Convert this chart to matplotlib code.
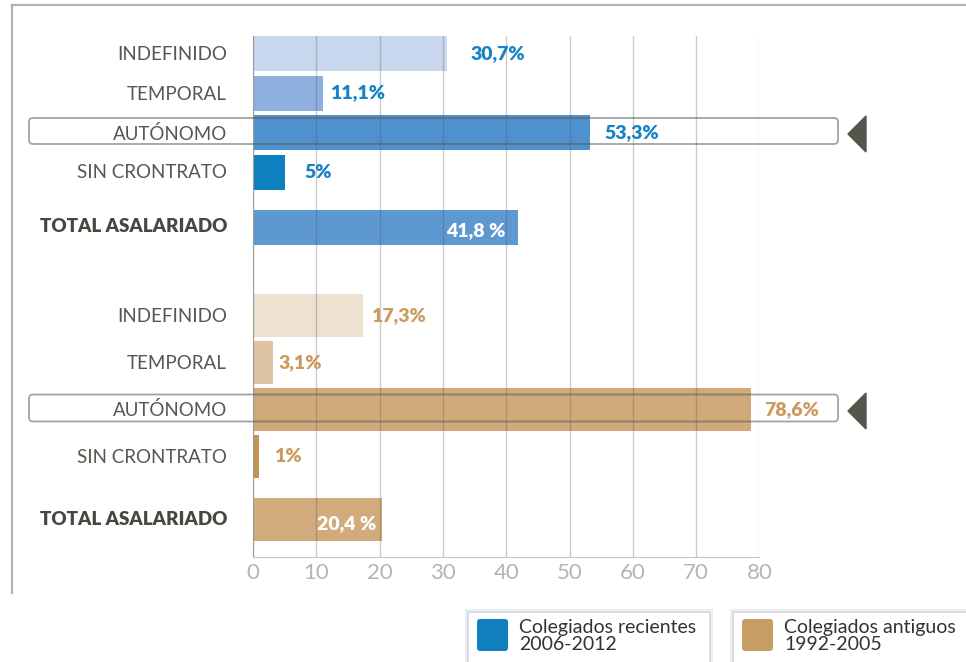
import matplotlib.pyplot as plt
from matplotlib.patches import FancyBboxPatch, Polygon, Rectangle

# --- data ---
categories = ["INDEFINIDO", "TEMPORAL", "AUTÓNOMO", "SIN CRONTRATO", "TOTAL ASALARIADO"]
recientes = [30.7, 11.1, 53.3, 5.0, 41.8]
antiguos = [17.3, 3.1, 78.6, 1.0, 20.4]
recientes_labels = ["30,7%", "11,1%", "53,3%", "5%", "41,8 %"]
antiguos_labels = ["17,3%", "3,1%", "78,6%", "1%", "20,4 %"]
legend_names = ["Colegiados recientes\n2006-2012", "Colegiados antiguos\n1992-2005"]
xticks = [0, 10, 20, 30, 40, 50, 60, 70, 80]

# --- styles ---
blue_colors = ["#c9d8ef", "#8fb0de", "#4f91cf", "#0e80c0", "#5e98d1"]
tan_colors = ["#ede1d1", "#dfc4a3", "#d0aa7a", "#c39352", "#d1ab7b"]
blue_text = "#1583c6"
tan_text = "#cc9a5e"
label_gray = "#57564f"
font = "Lato"

W, H = 966, 662
fig = plt.figure(figsize=(W / 100, H / 100), dpi=100)

# main axes: y data units are figure pixels (top = 36, bottom = 557)
ax_top, ax_bot, x0px, x80px = 36, 557, 253, 759.5
ax = fig.add_axes([x0px / W, 1 - ax_bot / H, (x80px - x0px) / W, (ax_bot - ax_top) / H], zorder=2)
ax.set_xlim(0, 80)
ax.set_ylim(ax_bot, ax_top)

# row layout (pixels)
def rows(top, pitch, height, extra):
    c = [top + height / 2 + i * pitch for i in range(4)]
    c.append(top + height / 2 + 3 * pitch + pitch + extra)
    return c

up_y = rows(36, 39.5, 35, 15.5)
lo_y = rows(294, 47, 43, 16)

ax.barh(up_y, recientes, height=35, color=blue_colors, zorder=1)
ax.barh(lo_y, antiguos, height=43, color=tan_colors, zorder=1)

# value labels (pixel offsets from bar end)
up_off = [23, 7, 14, 20, -12]
lo_off = [9, 6, 14, 15, -6]
for vals, labs, ys, offs, col in [(recientes, recientes_labels, up_y, up_off, blue_text),
                                   (antiguos, antiguos_labels, lo_y, lo_off, tan_text)]:
    for i, (v, lab, y, dx) in enumerate(zip(vals, labs, ys, offs)):
        inside = i == len(vals) - 1
        ax.annotate(lab, (v, y), xytext=(dx, -4 if inside else 0), textcoords="offset pixels",
                    ha="right" if inside else "left", va="center", fontsize=14,
                    fontweight="heavy", family=font, color="white" if inside else col, zorder=4)

ax.set_xticks(xticks)
ax.set_yticks([])
ax.tick_params(axis="x", length=0, pad=4, labelsize=16, labelcolor="#b5b5ad")
for lab in ax.get_xticklabels():
    lab.set_family(font)
for s in ["top", "right"]:
    ax.spines[s].set_visible(False)
ax.spines["bottom"].set_color("#c8c8c8")
ax.spines["left"].set_color("#bdbdb6")
ax.grid(axis="x", color="#555550", alpha=0.3, lw=1, zorder=3)
ax.set_axisbelow(False)

# overlay in pixel coordinates
ov = fig.add_axes([0, 0, 1, 1], zorder=3)
ov.set_xlim(0, W)
ov.set_ylim(H, 0)
ov.axis("off")
ov.patch.set_alpha(0)

frame_col = "#b4b4ac"
ov.plot([12, W], [5, 5], color=frame_col, lw=1.6)
ov.plot([12, 12], [5, 593], color=frame_col, lw=1.6)

for ys in (up_y, lo_y):
    for i, (cat, y) in enumerate(zip(categories, ys)):
        bold = cat.startswith("TOTAL")
        ov.text(227, y + (1 if not bold else 0), cat, ha="right", va="center", family=font,
                fontsize=13.5, fontweight="heavy" if bold else "normal",
                color="#47463f" if bold else label_gray)

# highlight boxes and arrows on AUTÓNOMO rows
for y, h in [(up_y[2], 26), (lo_y[2], 27)]:
    box = FancyBboxPatch((29, y - h / 2 - 1.5), 809, h, boxstyle="round,pad=0,rounding_size=4",
                         fc="none", ec=(0.35, 0.35, 0.3, 0.55), lw=1.3, zorder=5)
    ov.add_patch(box)
    ov.add_patch(Polygon([(848, y + 1.5), (866, y - 16.5), (866, y + 19.5)], closed=True,
                         color="#56554c", zorder=5))

# legend boxes
for (lx, rx), col, name in [((468, 710), "#1080c0", legend_names[0]),
                             ((733, 990), "#c89d64", legend_names[1])]:
    ov.add_patch(Rectangle((lx - 3, 609), rx - lx + 6, 60, fc="#eeeeee", ec="none", zorder=1))
    ov.add_patch(Rectangle((lx, 612), rx - lx, 60, fc="white", ec="#cfd8e8", lw=1.2, zorder=2))
    ov.add_patch(FancyBboxPatch((lx + 9, 619), 31, 32, boxstyle="round,pad=0,rounding_size=3",
                                fc=col, ec="none", zorder=3))
    ov.text(lx + 51, 636, name, ha="left", va="center", family=font, fontsize=14,
            color="#333333", linespacing=0.95, zorder=4)

fig.savefig("out.png", dpi=100)
